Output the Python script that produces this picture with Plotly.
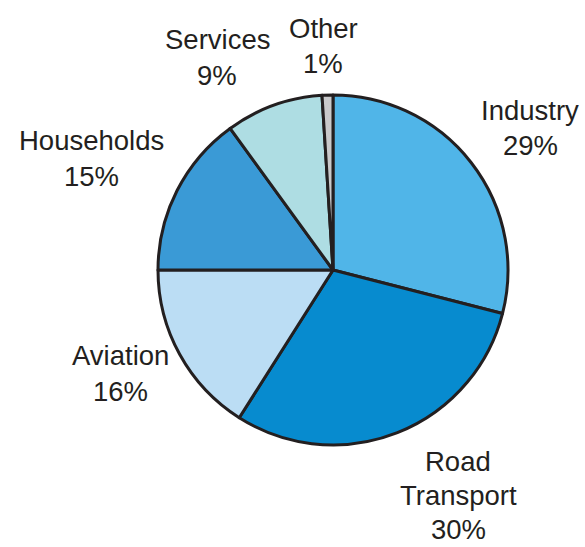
import plotly.graph_objects as go

categories = ["Industry", "Road Transport", "Aviation", "Households", "Services", "Other"]
values = [29, 30, 16, 15, 9, 1]
colors = ["#50B5E8", "#078BCF", "#BBDDF4", "#3A9AD6", "#AEDDE3", "#C9C9CB"]
# label lines (name lines, then percentage)
label_lines = [["Industry"], ["Road", "Transport"], ["Aviation"], ["Households"], ["Services"], ["Other"]]
# label anchor (pixel centre of first line) and line pitch
label_pos = [(530, 110), (458, 461), (120, 355), (91, 140), (217, 39), (323, 28)]
pitch = [36, 34, 36, 36, 36, 36]

W, H = 585, 547
cx, cy, r = 333, 270, 175

fig = go.Figure(go.Pie(
    labels=categories, values=values, sort=False, direction="clockwise", rotation=0,
    marker=dict(colors=colors, line=dict(color="#231F20", width=3)),
    textinfo="none", hoverinfo="label+percent", showlegend=False,
    domain=dict(x=[(cx - r) / W, (cx + r) / W], y=[1 - (cy + r) / H, 1 - (cy - r) / H]),
))

annotations = []
for lines, v, (px, py), p in zip(label_lines, values, label_pos, pitch):
    all_lines = lines + [f"{v}%"]
    for i, t in enumerate(all_lines):
        annotations.append(dict(
            text=t, x=px / W, y=1 - (py + i * p) / H, xref="paper", yref="paper",
            xanchor="center", yanchor="middle", showarrow=False,
            font=dict(family="Liberation Sans, Arial, sans-serif", size=27.5, color="#231F20"),
        ))

fig.update_layout(
    width=W, height=H, margin=dict(l=0, r=0, t=0, b=0),
    paper_bgcolor="white", plot_bgcolor="white", annotations=annotations,
)
fig.write_html("out.html", config={"displayModeBar": False},
               post_script="document.body.style.margin='0';document.body.style.overflow='hidden';")
